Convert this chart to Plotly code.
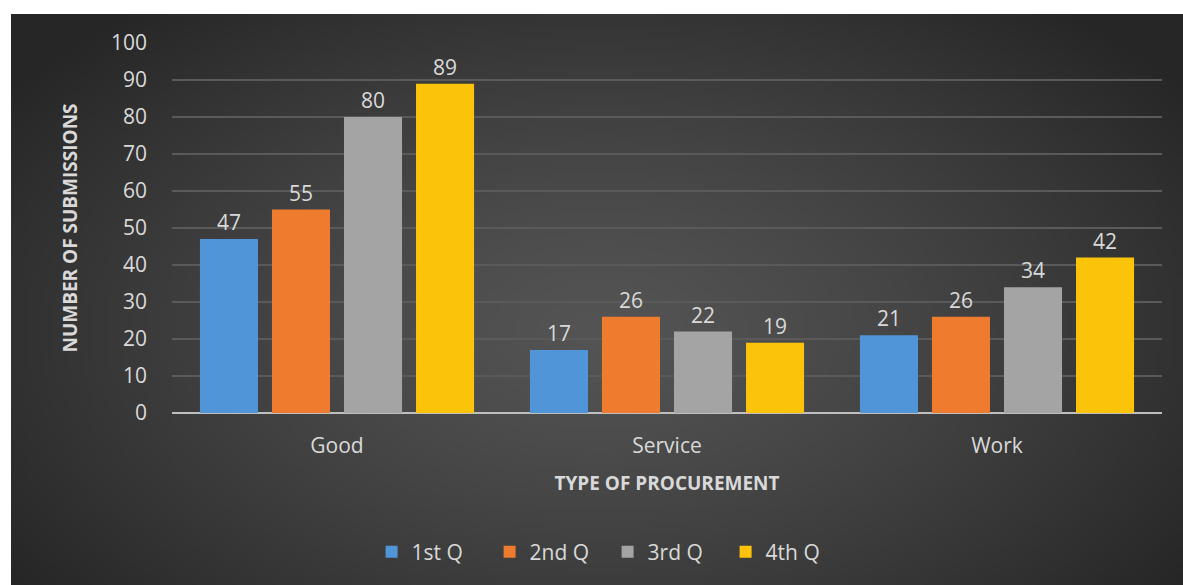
import plotly.graph_objects as go
import numpy as np
import zlib, struct, base64

categories = ["Good", "Service", "Work"]
series_names = ["1st Q", "2nd Q", "3rd Q", "4th Q"]
q1 = [47, 17, 21]
q2 = [55, 26, 26]
q3 = [80, 22, 34]
q4 = [89, 19, 42]
values = [q1, q2, q3, q4]
colors = ["#5195d9", "#ee7b2e", "#a4a4a4", "#fbc40a"]
y_ticks = list(range(0, 101, 10))

W, H = 1183, 585
L, R, T, B = 172, 21, 43, 172
pw, ph = W - L - R, H - T - B
FONT = "Open Sans"
TXT = "#d9d9d9"


def make_png(w, h):
    ys, xs = np.mgrid[0:h, 0:w]
    cx, cy = w * 0.5, h * 0.55
    d = np.sqrt(((xs - cx) / (w * 0.62)) ** 2 + ((ys - cy) / (h * 0.75)) ** 2)
    d = np.clip(d, 0, 1)
    v = (84 - 46 * d ** 1.3).astype(np.uint8)
    raw = b"".join(b"\x00" + bytes(np.stack([row, row, row], axis=1).flatten()) for row in v)

    def chunk(t, data):
        c = struct.pack(">I", len(data)) + t + data
        return c + struct.pack(">I", zlib.crc32(t + data) & 0xFFFFFFFF)

    png = b"\x89PNG\r\n\x1a\n" + chunk(b"IHDR", struct.pack(">IIBBBBB", w, h, 8, 2, 0, 0, 0))
    png += chunk(b"IDAT", zlib.compress(raw, 9)) + chunk(b"IEND", b"")
    return "data:image/png;base64," + base64.b64encode(png).decode()


bg = make_png(236, 114)

fig = go.Figure()
for name, vals, col in zip(series_names, values, colors):
    fig.add_trace(go.Bar(
        x=categories, y=vals, name=name,
        marker=dict(color=col, line=dict(width=0)),
        text=[str(v) for v in vals], textposition="outside",
        textfont=dict(color=TXT, size=21, family=FONT),
        cliponaxis=False,
    ))

x0 = (11 - L) / pw
x1 = (W - L) / pw
y1 = (H - 14 - B) / ph
y0 = -B / ph
fig.add_layout_image(dict(
    source=bg, xref="paper", yref="paper", x=x0, y=y1,
    sizex=x1 - x0, sizey=y1 - y0, xanchor="left", yanchor="top",
    sizing="stretch", layer="below",
))

fig.update_layout(
    width=W, height=H,
    margin=dict(l=L, r=R, t=T, b=B, autoexpand=False),
    paper_bgcolor="white", plot_bgcolor="rgba(0,0,0,0)",
    barmode="group", bargap=0.127, bargroupgap=0.194,
    font=dict(family=FONT, color=TXT),
    showlegend=True,
    legend=dict(orientation="h", x=0.44, xanchor="center",
                yref="container", y=(H - 552) / H, yanchor="middle",
                font=dict(size=21, color=TXT, family=FONT),
                entrywidth=73, entrywidthmode="pixels",
                bgcolor="rgba(0,0,0,0)", traceorder="normal"),
    xaxis=dict(
        tickfont=dict(size=21, color=TXT, family=FONT),
        showline=False, ticks="", showgrid=False, automargin=False,
        ticklabelstandoff=18,
        title=dict(text="<b>TYPE OF PROCUREMENT</b>", standoff=18,
                   font=dict(size=19, color=TXT, family=FONT)),
    ),
    yaxis=dict(
        range=[0, 100], tickvals=y_ticks, ticktext=[str(t) for t in y_ticks],
        tickfont=dict(size=21, color=TXT, family=FONT),
        gridcolor="#5a5a5a", gridwidth=1.5,
        zeroline=True, zerolinecolor="#bfbfbf", zerolinewidth=2,
        showline=False, ticks="", ticklabelstandoff=24, automargin=False,
        title=dict(text="<b>NUMBER OF SUBMISSIONS</b>", standoff=28,
                   font=dict(size=19, color=TXT, family=FONT)),
    ),
)

fig.write_html("out.html", config={"displayModeBar": False},
               post_script="document.body.style.margin='0';document.body.style.overflow='hidden';")
